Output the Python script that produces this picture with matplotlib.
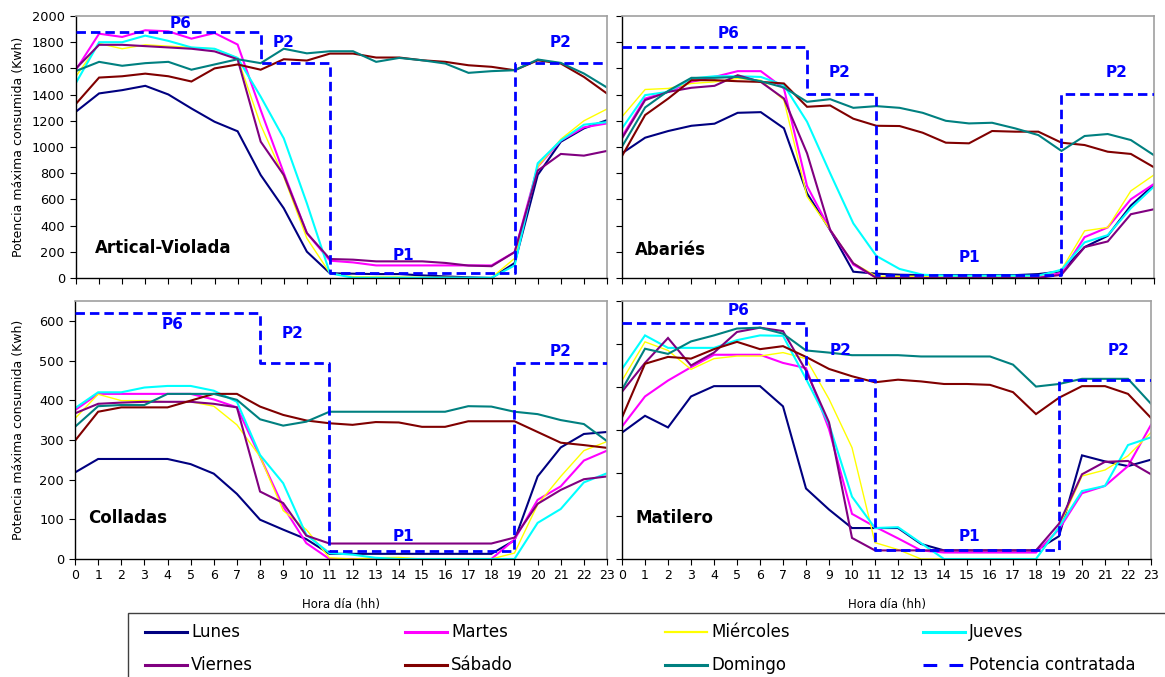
import matplotlib
matplotlib.use("Agg")
import matplotlib.pyplot as plt
from matplotlib.lines import Line2D
from matplotlib.patches import Rectangle

plt.rcParams['font.family'] = ['DejaVu Sans']

hours = list(range(24))
days = ["Lunes", "Martes", "Miércoles", "Jueves", "Viernes", "Sábado", "Domingo"]
day_colors = ["#000080", "#FF00FF", "#FFFF00", "#00FFFF", "#800080", "#800000", "#008080"]
day_widths = [1.5, 1.5, 1.0, 1.5, 1.5, 1.5, 1.5]
contract_label = "Potencia contratada"

# ---- Artical-Violada ----
av_lunes = [1270, 1409, 1434, 1467, 1401, 1294, 1193, 1120, 786, 532, 201, 36, 33, 30, 30, 20, 12, 5, 0, 114, 787, 1040, 1142, 1205]
av_martes = [1590, 1865, 1840, 1891, 1883, 1827, 1870, 1782, 1282, 801, 343, 132, 119, 96, 96, 96, 96, 96, 96, 198, 850, 1050, 1150, 1180]
av_miercoles = [1540, 1790, 1750, 1780, 1770, 1760, 1750, 1680, 1168, 773, 303, 36, 10, 8, 8, 5, 5, 3, 3, 150, 850, 1060, 1200, 1290]
av_jueves = [1490, 1800, 1800, 1850, 1810, 1760, 1750, 1680, 1384, 1066, 570, 36, 2, 2, 2, 2, 2, 2, 2, 96, 876, 1050, 1170, 1190]
av_viernes = [1600, 1780, 1780, 1770, 1760, 1750, 1730, 1670, 1041, 786, 343, 145, 140, 127, 127, 127, 115, 95, 90, 198, 820, 947, 934, 970]
av_sabado = [1330, 1530, 1540, 1560, 1540, 1500, 1600, 1630, 1590, 1670, 1660, 1713, 1713, 1683, 1683, 1662, 1650, 1624, 1612, 1586, 1662, 1637, 1535, 1408]
av_domingo = [1580, 1650, 1620, 1640, 1650, 1590, 1630, 1670, 1640, 1750, 1715, 1731, 1731, 1650, 1680, 1662, 1637, 1566, 1579, 1586, 1668, 1642, 1561, 1454]
av_contrato = [1880] * 8 + [1640] * 3 + [35] * 8 + [1640] * 5

# ---- Abariés ----
ab_lunes = [952, 1071, 1122, 1162, 1178, 1261, 1266, 1143, 646, 366, 48, 33, 25, 22, 22, 22, 22, 22, 30, 51, 236, 322, 553, 711]
ab_martes = [1079, 1370, 1421, 1497, 1535, 1579, 1579, 1447, 702, 368, 102, 3, 5, 5, 5, 5, 5, 5, 5, 38, 312, 386, 601, 718]
ab_miercoles = [1231, 1439, 1447, 1485, 1497, 1523, 1510, 1358, 622, 368, 114, 13, 13, 13, 13, 13, 13, 13, 13, 63, 360, 386, 665, 787]
ab_jueves = [1142, 1396, 1421, 1523, 1540, 1540, 1535, 1472, 1193, 799, 417, 168, 69, 25, 18, 18, 18, 18, 18, 63, 272, 327, 533, 698]
ab_viernes = [1066, 1358, 1421, 1452, 1467, 1548, 1497, 1370, 952, 366, 112, 0, 0, 0, 0, 0, 0, 0, 0, 25, 236, 279, 487, 525]
ab_sabado = [931, 1244, 1370, 1510, 1510, 1502, 1497, 1485, 1307, 1317, 1216, 1162, 1160, 1109, 1033, 1028, 1122, 1117, 1117, 1033, 1015, 964, 947, 845]
ab_domingo = [1003, 1302, 1429, 1528, 1528, 1535, 1502, 1454, 1345, 1365, 1299, 1312, 1299, 1261, 1200, 1180, 1185, 1142, 1091, 970, 1084, 1099, 1053, 937]
ab_contrato = [1764] * 8 + [1401] * 3 + [25] * 8 + [1401] * 5

# ---- Colladas ----
co_lunes = [218, 252, 252, 252, 252, 239, 215, 164, 99, 74, 50, 13, 13, 13, 13, 13, 13, 13, 13, 47, 208, 281, 315, 320]
co_martes = [375, 416, 416, 416, 416, 416, 402, 382, 258, 132, 40, 0, 0, 0, 0, 0, 0, 0, 0, 49, 149, 183, 248, 273]
co_miercoles = [354, 415, 399, 399, 396, 396, 385, 338, 258, 122, 74, 3, 0, 3, 4, 0, 0, 0, 0, 15, 137, 208, 273, 296]
co_jueves = [380, 420, 420, 432, 436, 436, 424, 396, 262, 191, 61, 15, 11, 3, 0, 0, 0, 0, 0, 0, 91, 126, 193, 216]
co_viernes = [367, 391, 394, 396, 396, 396, 391, 382, 170, 141, 59, 39, 39, 39, 39, 39, 39, 39, 39, 54, 139, 174, 201, 208]
co_sabado = [298, 371, 382, 382, 382, 399, 416, 416, 384, 363, 349, 342, 338, 345, 344, 333, 333, 347, 347, 347, 320, 293, 287, 280]
co_domingo = [333, 385, 388, 388, 416, 416, 416, 401, 352, 336, 346, 371, 371, 371, 371, 371, 371, 385, 384, 371, 365, 350, 340, 297]
co_contrato = [621] * 8 + [493] * 3 + [19] * 8 + [493] * 5

# ---- Matilero ----
ma_lunes = [294, 333, 306, 378, 402, 402, 402, 355, 164, 115, 72, 72, 72, 35, 20, 20, 20, 20, 20, 53, 241, 227, 216, 231]
ma_martes = [308, 378, 415, 446, 475, 475, 475, 456, 444, 302, 105, 75, 48, 20, 15, 15, 15, 15, 15, 69, 153, 170, 216, 312]
ma_miercoles = [415, 505, 485, 441, 466, 472, 472, 480, 466, 372, 259, 38, 22, 0, 0, 0, 0, 0, 0, 74, 193, 207, 240, 294]
ma_jueves = [442, 520, 491, 491, 491, 509, 520, 519, 419, 314, 145, 72, 74, 37, 0, 0, 0, 0, 0, 74, 158, 170, 265, 283]
ma_viernes = [389, 456, 514, 450, 480, 528, 538, 530, 438, 318, 49, 20, 20, 20, 20, 20, 20, 20, 20, 82, 197, 226, 228, 197]
ma_sabado = [329, 454, 470, 466, 488, 505, 488, 495, 470, 442, 425, 411, 417, 413, 407, 407, 405, 388, 337, 375, 402, 402, 384, 328]
ma_domingo = [394, 489, 477, 506, 520, 536, 538, 524, 485, 480, 474, 474, 474, 471, 471, 471, 471, 452, 401, 407, 419, 419, 419, 361]
ma_contrato = [549] * 8 + [417] * 3 + [20] * 8 + [417] * 5

panels = [
    dict(name="Artical-Violada",
         series=[av_lunes, av_martes, av_miercoles, av_jueves, av_viernes, av_sabado, av_domingo],
         contrato=av_contrato, ylim=(0, 2000), yticks=range(0, 2001, 200),
         labels=[("P6", 4.55, 1939), ("P2", 9.0, 1794), ("P1", 14.2, 175), ("P2", 21.0, 1794)],
         name_pos=(0.8, 229)),
    dict(name="Abariés",
         series=[ab_lunes, ab_martes, ab_miercoles, ab_jueves, ab_viernes, ab_sabado, ab_domingo],
         contrato=ab_contrato, ylim=(0, 2000), yticks=range(0, 2001, 200),
         labels=[("P6", 4.6, 1870), ("P2", 9.4, 1572), ("P1", 15.0, 160), ("P2", 21.4, 1572)],
         name_pos=(0.55, 214)),
    dict(name="Colladas",
         series=[co_lunes, co_martes, co_miercoles, co_jueves, co_viernes, co_sabado, co_domingo],
         contrato=co_contrato, ylim=(0, 650), yticks=range(0, 601, 100),
         labels=[("P6", 4.2, 591), ("P2", 9.4, 568), ("P1", 14.2, 57), ("P2", 21.0, 522)],
         name_pos=(0.55, 103)),
    dict(name="Matilero",
         series=[ma_lunes, ma_martes, ma_miercoles, ma_jueves, ma_viernes, ma_sabado, ma_domingo],
         contrato=ma_contrato, ylim=(0, 600), yticks=range(0, 601, 100),
         labels=[("P6", 5.06, 579), ("P2", 9.5, 485), ("P1", 15.1, 53), ("P2", 21.6, 485)],
         name_pos=(0.58, 96)),
]

W, H = 1165, 677
fig = plt.figure(figsize=(W / 100, H / 100), dpi=100)


def box(x0, y0, x1, y1):
    return [x0 / W, 1 - y1 / H, (x1 - x0) / W, (y1 - y0) / H]


rects = [box(76, 16, 607, 278), box(622, 16, 1154, 278),
         box(75, 301, 607, 559), box(622, 301, 1151, 559)]

BLUE = "#0000FF"
for i, (p, r) in enumerate(zip(panels, rects)):
    ax = fig.add_axes(r)
    for vals, c, lw in zip(p["series"], day_colors, day_widths):
        ax.plot(hours, vals, color=c, lw=lw, solid_joinstyle="miter", zorder=2)
    ax.plot(hours, p["contrato"], color=BLUE, lw=2.0, ls=(0, (3.4, 1.8)),
            drawstyle="steps-post", zorder=3)
    ax.set_xlim(0, 23)
    ax.set_ylim(*p["ylim"])
    ax.set_xticks(hours)
    ax.set_yticks(list(p["yticks"]))
    ax.tick_params(direction="out", length=4, width=0.8, colors="black")
    ax.tick_params(axis="y", labelsize=9.3, pad=4)
    ax.tick_params(axis="x", labelsize=9, pad=3)
    for s in ("top", "right"):
        ax.spines[s].set_color("#A0A0A0")
        ax.spines[s].set_linewidth(1.2)
    for s in ("left", "bottom"):
        ax.spines[s].set_color("black")
        ax.spines[s].set_linewidth(1.0)
    if i % 2 == 1:
        ax.set_yticklabels([])
    else:
        ax.set_ylabel("Potencia máxima consumida (Kwh)", fontsize=9)
        ax.yaxis.set_label_coords(-(r[0] * W - 25) / (r[2] * W), 0.5)
    if i < 2:
        ax.set_xticklabels([])
    else:
        ax.set_xlabel("Hora día (hh)", fontsize=8.5, labelpad=12)
    for txt, x, y in p["labels"]:
        ax.text(x, y, txt, color=BLUE, fontsize=11, fontweight="bold",
                ha="center", va="center", zorder=4)
    ax.text(p["name_pos"][0], p["name_pos"][1], p["name"], fontsize=12,
            fontweight="bold", ha="left", va="center", zorder=4)

# ---- legend box ----
fig.add_artist(Rectangle((128 / W, 1 - 690 / H), (1175 - 128) / W, (690 - 613) / H,
                         transform=fig.transFigure, facecolor="white",
                         edgecolor="#404040", lw=1.0, clip_on=False))
leg_names = days + [contract_label]
leg_colors = day_colors + [BLUE]
col_x = [145, 405, 665, 923]
row_y = [632, 665]
for k, (nm, c) in enumerate(zip(leg_names, leg_colors)):
    cx = col_x[k % 4]
    ry = row_y[k // 4]
    yy = 1 - ry / H
    if nm == contract_label:
        fig.add_artist(Line2D([cx / W, (cx + 42) / W], [yy, yy], transform=fig.transFigure,
                              color=c, lw=2.2, ls=(0, (4.5, 4))))
    else:
        fig.add_artist(Line2D([cx / W, (cx + 42) / W], [yy, yy], transform=fig.transFigure,
                              color=c, lw=2.2 if c != "#FFFF00" else 1.6))
    fig.text((cx + 46) / W, yy, nm, fontsize=12, ha="left", va="center")

fig.savefig("out.png", dpi=100)
